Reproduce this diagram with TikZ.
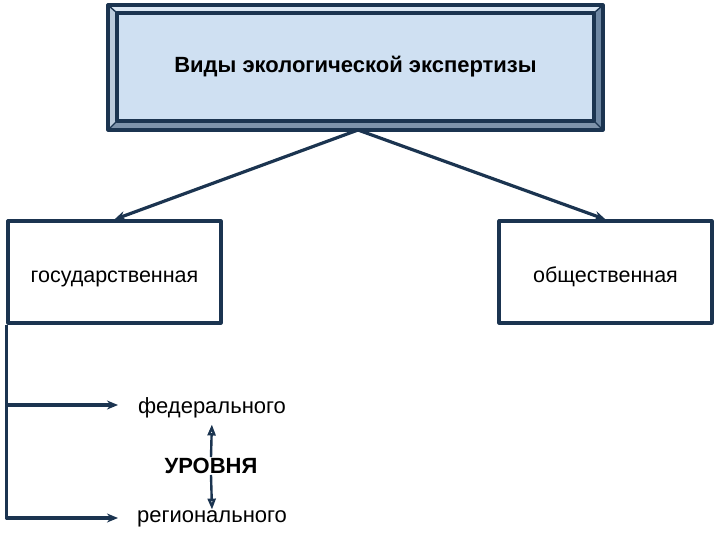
\documentclass[tikz,border=0pt]{standalone}
\usepackage{fontspec}
\setmainfont{Liberation Sans}
\usetikzlibrary{positioning,arrows.meta}
\definecolor{navy}{HTML}{1B3450}
\definecolor{boxblue}{HTML}{CFE0F2}
\definecolor{bevtop}{HTML}{DCE8F4}
\definecolor{bevside}{HTML}{6E87A3}
\definecolor{bevbot}{HTML}{7E93AB}
\begin{document}
\begin{tikzpicture}[x=1pt,y=-1pt,line join=round,>={Stealth[length=11pt,width=9pt]}]
			\tikzset{every node/.style={font=\fontsize{22}{26}\selectfont},
				kind/.style={draw=navy,line width=3.2pt,minimum width=213pt,minimum height=102pt,inner sep=0pt,
					text height=20pt,text depth=0pt,font=\fontsize{21.5}{26}\selectfont},
				link/.style={draw=navy,line width=3.2pt,->},
				lvl/.style={inner sep=1pt}}
			\useasboundingbox (0,0) rectangle (720,540);
			% bevelled title box
			\fill[bevtop] (108,5)--(603,5)--(594,13)--(117,13)--cycle;
			\fill[bevtop!70!bevside] (108,5)--(117,13)--(117,121)--(108,130)--cycle;
			\fill[bevside] (603,5)--(603,130)--(594,121)--(594,13)--cycle;
			\fill[bevbot] (108,130)--(603,130)--(594,121)--(117,121)--cycle;
			\draw[navy,line width=1.4pt] (108,5)--(117,13) (603,5)--(594,13) (108,130)--(117,121) (603,130)--(594,121);
			\draw[navy,line width=3.2pt] (108,5) rectangle (603,130);
			\node[draw=navy,line width=3.2pt,fill=boxblue,minimum width=477pt,minimum height=108pt,inner sep=0pt,
				font=\fontsize{22}{26}\selectfont\bfseries] (title) at (355.5,67) {Виды экологической экспертизы};
			\coordinate (tb) at (358,130);
			% kinds
			\node[kind] (state) at (114.5,272) {государственная};
			\node[kind] (public) at (605.5,272) {общественная};
			\draw[link] (tb)--(state.north);
			\draw[link] (tb)--(public.north);
			% levels
			\node[lvl] (fed) at (212,408) {федерального};
			\node[lvl] (reg) at (212,519) {регионального};
			\node[lvl,font=\fontsize{22}{26}\selectfont\bfseries] (lev) at (211,466) {УРОВНЯ};
			\coordinate (c1) at (118,405);
			\coordinate (c2) at (118,518);
			\draw[link] (state.south west)|-(c2);
			\draw[link] (8,405)--(c1);
			\draw[navy,line width=2.4pt,shorten >=5pt,-{Triangle[open,length=11pt,width=8pt]}] (lev.north)--(fed.south);
			\draw[navy,line width=2.4pt,-{Triangle[open,length=11pt,width=8pt]}] (lev.south)--(reg.north);
		\end{tikzpicture}
\end{document}
